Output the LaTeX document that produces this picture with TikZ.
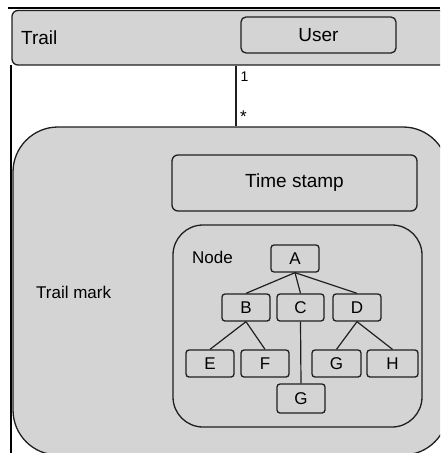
\documentclass[tikz,border=0pt]{standalone}
\usepackage{fontspec}
\setmainfont{Liberation Sans}
\begin{document}
\begin{tikzpicture}[x=1pt,y=-1pt,
  box/.style={draw=black!88,fill=boxgray,line width=1.3pt,inner sep=0pt},
  leaf/.style={box,rounded corners=3pt,minimum width=48pt,minimum height=27pt,font=\fontsize{17}{19}\selectfont},
  lbl/.style={inner sep=0pt,anchor=west},
  conn/.style={draw=black!88,line width=1.2pt},
  frame/.style={draw=black,line width=2pt}]
\definecolor{boxgray}{HTML}{D4D4D4}
\useasboundingbox (0,0) rectangle (440,453);
\clip (0,0) rectangle (440,453);
\fill[white] (0,0) rectangle (440,453);
% outer frame lines
\coordinate (ftl) at (8,8);
\coordinate (ftr) at (440,8);
\coordinate (fl1) at (10.5,65);
\coordinate (fl2) at (10.5,453);
\draw[frame] (ftl) -- (ftr);
\draw[frame] (fl1) -- (fl2);
% Trail box
\node[box,rounded corners=6pt,minimum width=448pt,minimum height=54.5pt] (trail) at (236,37.75) {};
\node[lbl,font=\fontsize{19}{22}\selectfont] (trailtxt) at (21,38) {Trail};
\node[box,rounded corners=5pt,minimum width=155pt,minimum height=36pt,font=\fontsize{19}{22}\selectfont] (user) at (318.5,35) {User};
% Trail mark box
\node[box,rounded corners=45pt,minimum width=435pt,minimum height=328pt] (mark) at (230.5,291) {};
\node[lbl,font=\fontsize{17}{20}\selectfont] (marktxt) at (36,292) {Trail mark};
\node[box,rounded corners=6pt,minimum width=245pt,minimum height=56pt,font=\fontsize{19}{22}\selectfont] (time) at (294.5,183) {Time stamp};
\node[box,rounded corners=30pt,minimum width=249pt,minimum height=202pt] (nodebox) at (297.5,326) {};
\node[lbl,font=\fontsize{17}{20}\selectfont] (nodetxt) at (192,257) {Node};
% connector Trail -- Trail mark
\coordinate (cx) at (236,0);
\draw[conn] (trail.south -| cx) -- (mark.north -| cx);
\node[lbl,font=\fontsize{14}{16}\selectfont] (one) at (240.5,77) {1};
\node[lbl,font=\fontsize{17}{19}\selectfont] (star) at (240,117) {*};
% tree
\node[leaf] (A) at (295,258.5) {A};
\node[leaf] (B) at (246,307.5) {B};
\node[leaf,minimum width=47pt] (C) at (300.5,307.5) {C};
\node[leaf] (D) at (357,307.5) {D};
\node[leaf] (E) at (210,363.5) {E};
\node[leaf] (F) at (265,363.5) {F};
\node[leaf,minimum width=49pt] (G1) at (336.5,363.5) {G};
\node[leaf,minimum width=51pt] (H) at (392.5,363.5) {H};
\node[leaf,minimum height=29pt] (G2) at (301,398.5) {G};
\draw[conn] (A.south) -- (B.north);
\draw[conn] (A.south) -- (C.north);
\draw[conn] (A.south) -- (D.north);
\draw[conn] (B.south) -- (E.north);
\draw[conn] (B.south) -- (F.north);
\draw[conn] (D.south) -- (G1.north);
\draw[conn] (D.south) -- (H.north);
\draw[conn] (C.south) -- (G2.north);
\end{tikzpicture}
\end{document}
